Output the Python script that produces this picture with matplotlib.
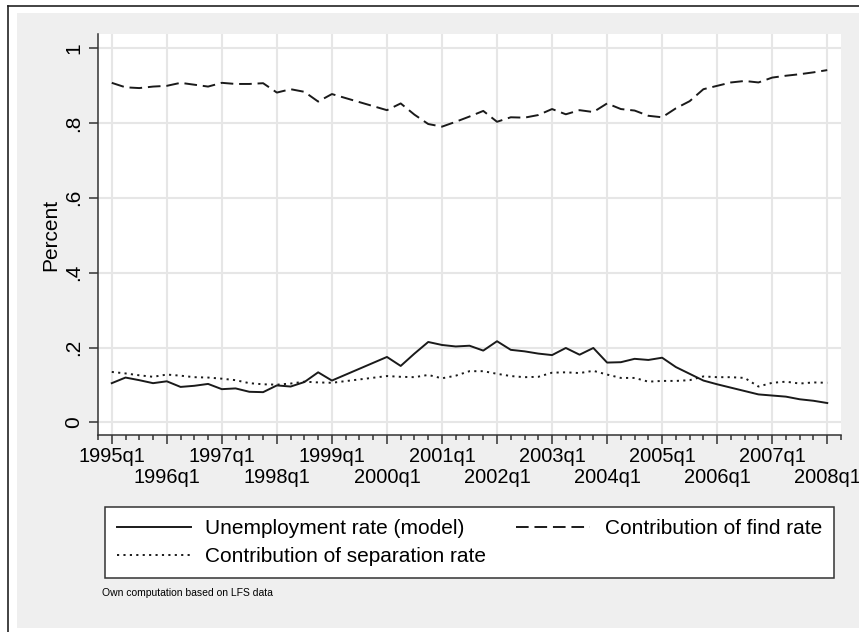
import numpy as np
import matplotlib
matplotlib.use("Agg")
import matplotlib.pyplot as plt
from matplotlib.patches import Rectangle
from matplotlib.lines import Line2D
from matplotlib.ticker import FixedLocator, MultipleLocator

plt.rcParams['font.family'] = ['Liberation Sans', 'DejaVu Sans']

# Quarterly periods 1995q1 .. 2008q1
quarters = [f"{y}q{q}" for y in range(1995, 2009) for q in range(1, 5)][:53]
tick_years = list(range(1995, 2009))
tick_labels = [f"{y}q1" for y in tick_years]
y_ticks = [0, 0.2, 0.4, 0.6, 0.8, 1.0]
y_tick_labels = ["0", ".2", ".4", ".6", ".8", "1"]

# Series (None = quarter not observed)
unemployment = [0.105, 0.120, 0.113, 0.105,
                0.110, 0.095, 0.098, 0.103,
                0.089, 0.091, 0.082, 0.081,
                0.099, 0.096, 0.108, 0.134,
                0.112, None, None, None,
                0.175, 0.151, 0.184, 0.215,
                0.207, 0.203, 0.205, 0.192,
                0.217, 0.194, 0.190, 0.184,
                0.180, 0.199, 0.181, 0.199,
                0.160, 0.161, 0.170, 0.167,
                0.173, 0.148, 0.130, 0.112,
                0.102, 0.093, 0.084, 0.075,
                0.072, 0.069, 0.062, 0.058,
                0.052]
find_contrib = [0.907, 0.895, 0.893, 0.897,
                0.899, 0.907, 0.902, 0.897,
                0.907, 0.904, 0.904, 0.906,
                0.881, 0.890, 0.883, 0.857,
                0.877, None, None, None,
                0.834, 0.852, 0.822, 0.797,
                0.790, 0.803, 0.817, 0.832,
                0.803, 0.815, 0.814, 0.821,
                0.837, 0.823, 0.834, 0.829,
                0.852, 0.837, 0.833, 0.819,
                0.815, 0.839, 0.858, 0.890,
                0.899, 0.908, 0.912, 0.908,
                0.921, 0.926, 0.930, 0.935,
                0.941]
sep_contrib = [0.135, 0.131, 0.126, 0.122,
               0.128, 0.125, 0.121, 0.120,
               0.117, 0.113, 0.105, 0.102,
               0.101, 0.104, 0.109, 0.107,
               0.106, None, None, None,
               0.124, 0.122, 0.121, 0.127,
               0.118, 0.125, 0.137, 0.137,
               0.130, 0.124, 0.121, 0.122,
               0.133, 0.134, 0.132, 0.138,
               0.128, 0.119, 0.119, 0.109,
               0.111, 0.111, 0.113, 0.123,
               0.121, 0.121, 0.119, 0.096,
               0.106, 0.109, 0.104, 0.107,
               0.106]

W, H = 859, 632


def fx(px):
    return px / W


def fy(py):
    return 1 - py / H


fig = plt.figure(figsize=(W / 100, H / 100), dpi=100)
fig.patch.set_facecolor('white')

# Graph region background and page rules
fig.patches.append(Rectangle((fx(17), fy(628)), 1 - fx(17), fy(13) - fy(628),
                             transform=fig.transFigure, facecolor='#efefef',
                             edgecolor='none', zorder=-10))
fig.lines.append(Line2D([fx(8), fx(8)], [0, fy(6)], transform=fig.transFigure,
                        color='#222222', lw=1.2, zorder=-5))
fig.lines.append(Line2D([fx(8), 1], [fy(6), fy(6)], transform=fig.transFigure,
                        color='#222222', lw=1.2, zorder=-5))

ax = fig.add_axes([fx(98), fy(435), fx(841) - fx(98), fy(34) - fy(435)])
ax.set_zorder(2)
ax.set_facecolor('white')

x = np.arange(len(quarters))


def valid(vals):
    arr = np.array([np.nan if v is None else v for v in vals], dtype=float)
    m = ~np.isnan(arr)
    return x[m], arr[m]


lc = '#1a1a1a'
lw = 1.4
xu, yu = valid(unemployment)
xf, yf = valid(find_contrib)
xs, ys = valid(sep_contrib)
h_u, = ax.plot(xu, yu, color=lc, lw=lw, ls='-', zorder=3)
h_f, = ax.plot(xf, yf, color=lc, lw=lw, ls=(0, (6.5, 3)), zorder=3)
h_s, = ax.plot(xs, ys, color=lc, lw=lw, ls=(0, (1.1, 2.2)), zorder=3)

ax.set_xlim(-1, 53)
ax.set_ylim(-0.0334, 1.0374)

major_pos = [quarters.index(lbl) for lbl in tick_labels]
ax.xaxis.set_major_locator(FixedLocator(major_pos))
ax.xaxis.set_minor_locator(MultipleLocator(1))
ax.set_xticklabels(tick_labels)
ax.set_yticks(y_ticks)
ax.set_yticklabels(y_tick_labels, rotation=90, va='center')

ax.grid(True, which='major', color='#e6e6e6', lw=1.5, zorder=0)
ax.set_axisbelow(True)
for side in ('top', 'right'):
    ax.spines[side].set_visible(False)
for side in ('left', 'bottom'):
    ax.spines[side].set_color('#333333')
    ax.spines[side].set_linewidth(1.1)

ax.tick_params(axis='both', which='major', length=6.5, width=1.1,
               color='#333333', labelcolor='black')
ax.tick_params(axis='x', which='major', labelsize=14.4, pad=2.5)
ax.tick_params(axis='y', which='major', labelsize=15, pad=4.0)
ax.tick_params(axis='x', which='minor', length=3.6, width=1.1, color='#333333')
ax.tick_params(axis='y', which='minor', left=False)

# Stagger the year labels on two rows
for i, t in enumerate(ax.xaxis.get_major_ticks()):
    if i % 2 == 1:
        t.set_pad(17.5)

ax.set_ylabel("Percent", fontsize=15, labelpad=3)

leg = fig.legend(handles=[h_u, h_s, h_f],
                 labels=["Unemployment rate (model)",
                         "Contribution of separation rate",
                         "Contribution of find rate"],
                 ncol=2, mode='expand', loc='upper center',
                 bbox_to_anchor=(fx(105), fy(576), fx(834) - fx(105), fy(507) - fy(576)),
                 bbox_transform=fig.transFigure, fontsize=15, frameon=True,
                 fancybox=False, edgecolor='#333333', framealpha=1,
                 handlelength=3.55, handletextpad=0.7, labelspacing=0.45,
                 borderpad=0.57, borderaxespad=0)
leg.get_frame().set_linewidth(1.1)

fig.text(fx(102), fy(593), "Own computation based on LFS data",
         fontsize=7.5, ha='left', va='center')

fig.savefig("out.png", dpi=100)
